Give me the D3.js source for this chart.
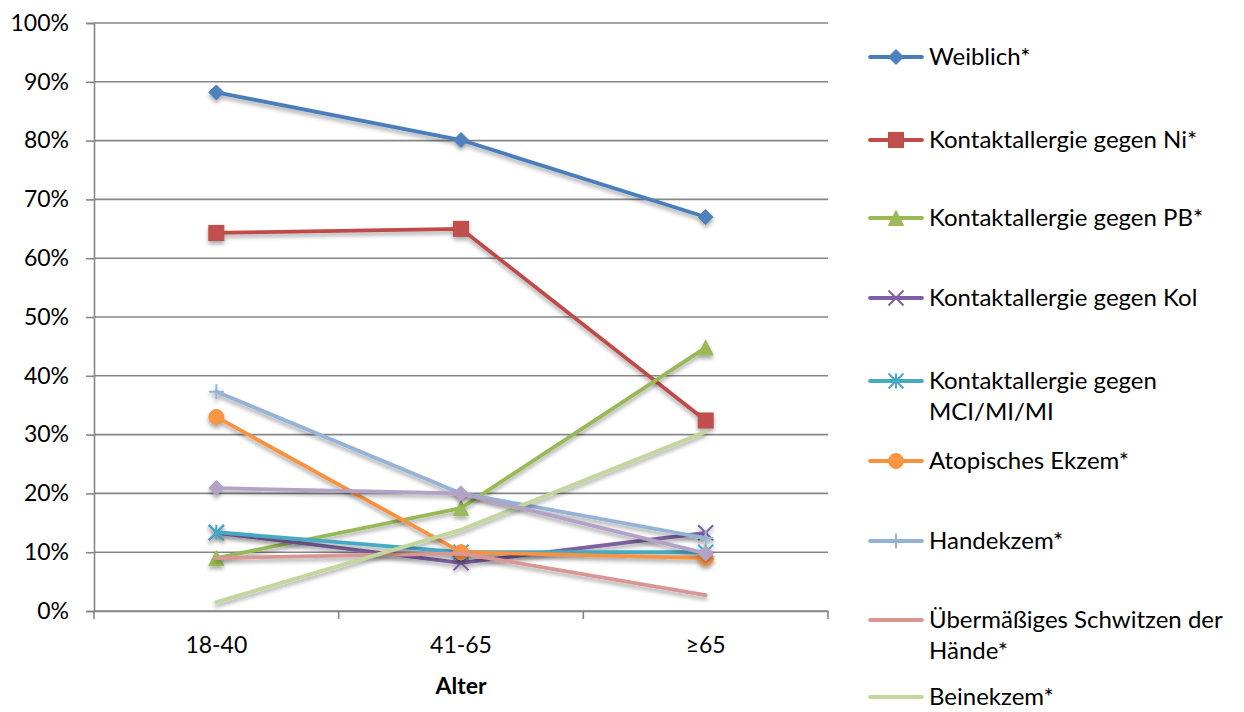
<!DOCTYPE html>
<html>
<head>
<meta charset="utf-8">
<script src="https://cdn.jsdelivr.net/npm/d3@7"></script>
<style>
  html, body { margin: 0; padding: 0; background: #fff; }
  svg { display: block; font-family: Lato, "Open Sans", sans-serif; }
</style>
</head>
<body>
<svg id="chart" width="1244" height="712"></svg>
<script>
// Age groups on the x axis
const categories = ["18-40", "41-65", "≥65"];
const yTicks = [0, 0.1, 0.2, 0.3, 0.4, 0.5, 0.6, 0.7, 0.8, 0.9, 1.0];

// Share per age group for each characteristic
const weiblich      = [0.882, 0.801, 0.670];
const nickel        = [0.643, 0.650, 0.324];
const pb            = [0.090, 0.175, 0.448];
const kol           = [0.133, 0.082, 0.133];
const mci           = [0.134, 0.100, 0.100];
const atopisch      = [0.330, 0.100, 0.090];
const handekzem     = [0.373, 0.200, 0.124];
const schwitzen     = [0.090, 0.098, 0.027];
const beinekzem     = [0.015, 0.138, 0.305];
const zehnteReihe   = [0.209, 0.200, 0.098];

const series = [
  { name: ["Weiblich*"], values: weiblich, color: "#4A7EBB", fill: "#4F81BD", marker: "diamond", legend: true },
  { name: ["Kontaktallergie gegen Ni*"], values: nickel, color: "#BE4B48", fill: "#C0504D", marker: "square", legend: true },
  { name: ["Kontaktallergie gegen PB*"], values: pb, color: "#98B954", fill: "#9BBB59", marker: "triangle", legend: true },
  { name: ["Kontaktallergie gegen Kol"], values: kol, color: "#7D60A0", fill: "#8064A2", marker: "x", legend: true },
  { name: ["Kontaktallergie gegen", "MCI/MI/MI"], values: mci, color: "#46AAC5", fill: "#4BACC6", marker: "star", legend: true },
  { name: ["Atopisches Ekzem*"], values: atopisch, color: "#F69240", fill: "#F79646", marker: "circle", legend: true },
  { name: ["Handekzem*"], values: handekzem, color: "#95B3D7", fill: "#95B3D7", marker: "plus", legend: true },
  { name: ["Übermäßiges Schwitzen der", "Hände*"], values: schwitzen, color: "#D99694", fill: "#D99694", marker: "none", legend: true },
  { name: ["Beinekzem*"], values: beinekzem, color: "#C3D69B", fill: "#C3D69B", marker: "none", legend: true },
  { name: [""], values: zehnteReihe, color: "#B3A2C7", fill: "#B3A2C7", marker: "diamond", legend: false }
];

const svg = d3.select("#chart");
const plot = { left: 94, right: 828, top: 23, bottom: 611 };
const fontSize = 24;

// soft drop shadow under lines and markers
const defs = svg.append("defs");
const f = defs.append("filter").attr("id", "shadow").attr("x", "-20%").attr("y", "-20%").attr("width", "140%").attr("height", "160%");
f.append("feGaussianBlur").attr("in", "SourceAlpha").attr("stdDeviation", 2).attr("result", "b");
f.append("feOffset").attr("in", "b").attr("dx", 0).attr("dy", 3).attr("result", "o");
f.append("feComponentTransfer").attr("in", "o").attr("result", "s")
  .append("feFuncA").attr("type", "linear").attr("slope", 0.35);
const m = f.append("feMerge");
m.append("feMergeNode").attr("in", "s");
m.append("feMergeNode").attr("in", "SourceGraphic");

const x = d3.scaleBand().domain(categories).range([plot.left, plot.right]);
const y = d3.scaleLinear().domain([0, 1]).range([plot.bottom, plot.top]);

const gridColor = "#868686";

// horizontal gridlines
svg.append("g").selectAll("line").data(yTicks).join("line")
  .attr("x1", plot.left).attr("x2", plot.right)
  .attr("y1", d => y(d)).attr("y2", d => y(d))
  .attr("stroke", gridColor).attr("stroke-width", 1.6);

// y axis
const yAxis = svg.append("g").attr("transform", `translate(${plot.left},0)`)
  .call(d3.axisLeft(y).tickValues(yTicks).tickFormat(d3.format(".0%")).tickSize(8).tickPadding(17));
yAxis.select(".domain").attr("stroke", gridColor).attr("stroke-width", 1.6);
yAxis.selectAll(".tick line").attr("stroke", gridColor).attr("stroke-width", 1.6);
yAxis.selectAll("text").attr("font-size", fontSize - 1).attr("fill", "#000").attr("font-family", "Lato, sans-serif");

// x axis
const xAxis = svg.append("g").attr("transform", `translate(0,${plot.bottom})`)
  .call(d3.axisBottom(x).tickSize(0).tickPadding(26));
xAxis.select(".domain").attr("stroke", gridColor).attr("stroke-width", 1.6);
xAxis.selectAll("text").attr("font-size", fontSize - 1).attr("fill", "#000").attr("font-family", "Lato, sans-serif");
// category separator ticks
const bounds = categories.map(c => x(c)).concat([plot.right]);
xAxis.selectAll(".sep").data(bounds).join("line").attr("class", "sep")
  .attr("x1", d => d).attr("x2", d => d).attr("y1", 0).attr("y2", 8)
  .attr("stroke", gridColor).attr("stroke-width", 1.6);

svg.append("text").attr("x", x("41-65") + x.bandwidth() / 2).attr("y", 694)
  .attr("text-anchor", "middle").attr("font-size", fontSize - 1).attr("font-weight", "bold")
  .text("Alter");

// marker shapes
function drawMarker(g, type, color, fill) {
  const s = 7.5;
  switch (type) {
    case "diamond":
      g.append("path").attr("d", `M0,${-s}L${s},0L0,${s}L${-s},0Z`).attr("fill", fill).attr("stroke", color).attr("stroke-width", 1);
      break;
    case "square":
      g.append("rect").attr("x", -s).attr("y", -s).attr("width", 2 * s).attr("height", 2 * s).attr("fill", fill).attr("stroke", color).attr("stroke-width", 1);
      break;
    case "triangle":
      g.append("path").attr("d", `M0,${-s}L${s},${s}L${-s},${s}Z`).attr("fill", fill).attr("stroke", color).attr("stroke-width", 1);
      break;
    case "circle":
      g.append("circle").attr("r", s).attr("fill", fill).attr("stroke", color).attr("stroke-width", 1);
      break;
    case "x":
      g.append("path").attr("d", `M${-s},${-s}L${s},${s}M${-s},${s}L${s},${-s}`).attr("stroke", color).attr("stroke-width", 2);
      break;
    case "star":
      g.append("path").attr("d", `M${-s},${-s}L${s},${s}M${-s},${s}L${s},${-s}M0,${-s}L0,${s}`).attr("stroke", color).attr("stroke-width", 2);
      break;
    case "plus":
      g.append("path").attr("d", `M${-s},0L${s},0M0,${-s}L0,${s}`).attr("stroke", color).attr("stroke-width", 2);
      break;
  }
}

const line = d3.line().x((d, i) => x(categories[i]) + x.bandwidth() / 2).y(d => y(d));

// later series are painted over earlier ones
const seriesG = svg.append("g");
series.forEach(s => {
  const g = seriesG.append("g").attr("filter", "url(#shadow)");
  g.append("path").datum(s.values).attr("d", line)
    .attr("fill", "none").attr("stroke", s.color).attr("stroke-width", 3.8)
    .attr("stroke-linejoin", "round").attr("stroke-linecap", "round");
  s.values.forEach((v, i) => {
    const mg = g.append("g").attr("transform", `translate(${x(categories[i]) + x.bandwidth() / 2},${y(v)})`);
    drawMarker(mg, s.marker, s.color, s.fill);
  });
});

// legend
const legendY = [57, 140, 218, 298, 381, 461, 541, 620, 697];
const legend = svg.append("g");
series.filter(s => s.legend).forEach((s, i) => {
  const cy = legendY[i];
  const g = legend.append("g").attr("transform", `translate(0,${cy})`);
  g.append("line").attr("x1", 870).attr("x2", 922).attr("y1", 0).attr("y2", 0)
    .attr("stroke", s.color).attr("stroke-width", 3.8).attr("stroke-linecap", "round");
  const mg = g.append("g").attr("transform", "translate(896,0)");
  drawMarker(mg, s.marker, s.color, s.fill);
  s.name.forEach((t, k) => {
    g.append("text").attr("x", 929).attr("y", k * 31).attr("dy", "0.35em")
      .attr("font-size", fontSize).attr("fill", "#000").text(t);
  });
});
</script>
</body>
</html>
